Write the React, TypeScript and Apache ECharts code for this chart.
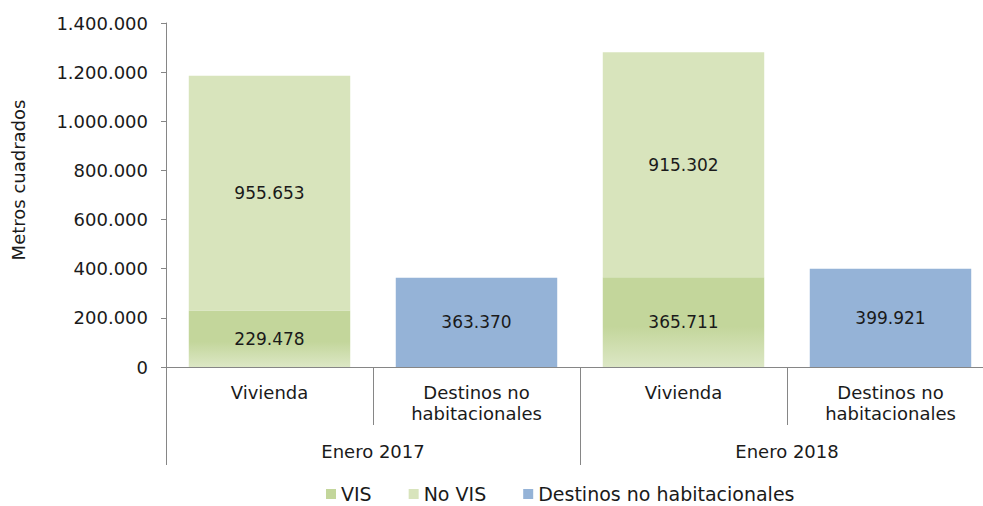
import React, { useEffect, useRef } from "react";
import * as echarts from "echarts";

const categories = ["Vivienda", "Destinos no\nhabitacionales", "Vivienda", "Destinos no\nhabitacionales"];
const periods = ["Enero 2017", "Enero 2018"];
const visValues = [229478, null, 365711, null];
const noVisValues = [955653, null, 915302, null];
const destinosValues = [null, 363370, null, 399921];
const seriesNames = ["VIS", "No VIS", "Destinos no habitacionales"];
const yAxisTitle = "Metros cuadrados";

const fmt = (v: number) => String(Math.round(v)).replace(/\B(?=(\d{3})+(?!\d))/g, ".");

const FONT = "DejaVu Sans";
const AXIS_COLOR = "#868686";

export default function App() {
  const ref = useRef<HTMLDivElement>(null);
  useEffect(() => {
    if (!ref.current) return;
    const chart = echarts.init(ref.current, null, { renderer: "svg" });
    const label = {
      show: true,
      position: "inside",
      color: "#1a1a1a",
      fontFamily: FONT,
      fontSize: 17,
      formatter: (p: any) => fmt(p.value),
    };
    chart.setOption({
      animation: false,
      backgroundColor: "#ffffff",
      grid: { left: 166, top: 23, width: 828, bottom: 139, outerBoundsMode: "none" },
      legend: {
        left: 326,
        top: 484,
        padding: 0,
        icon: "rect",
        itemWidth: 10,
        itemHeight: 10,
        itemGap: 37,
        textStyle: { fontFamily: FONT, fontSize: 19, lineHeight: 20, color: "#1a1a1a" },
        data: [
          { name: seriesNames[0], itemStyle: { color: "#c3d69b" } },
          { name: seriesNames[1], itemStyle: { color: "#d8e4bc" } },
          { name: seriesNames[2], itemStyle: { color: "#95b3d7" } },
        ],
      },
      graphic: [
        {
          type: "text",
          x: 18,
          y: 180,
          rotation: Math.PI / 2,
          style: {
            text: yAxisTitle,
            align: "center",
            verticalAlign: "middle",
            fontFamily: FONT,
            fontSize: 18,
            fill: "#1a1a1a",
          },
        },
      ],
      xAxis: [
        {
          type: "category",
          data: categories,
          position: "bottom",
          axisLine: { show: true, lineStyle: { color: AXIS_COLOR } },
          axisTick: { show: true, interval: 0, length: 58, lineStyle: { color: AXIS_COLOR } },
          axisLabel: {
            interval: 0,
            margin: 15,
            color: "#1a1a1a",
            fontFamily: FONT,
            fontSize: 18,
            lineHeight: 21,
            verticalAlign: "top",
          },
        },
        {
          type: "category",
          data: periods,
          position: "bottom",
          axisLine: { show: false },
          axisTick: { show: true, interval: 0, length: 98, lineStyle: { color: AXIS_COLOR } },
          axisLabel: {
            interval: 0,
            margin: 74,
            color: "#1a1a1a",
            fontFamily: FONT,
            fontSize: 18,
            lineHeight: 21,
            verticalAlign: "top",
          },
        },
      ],
      yAxis: {
        type: "value",
        min: 0,
        max: 1400000,
        interval: 200000,
        axisLine: { show: true, lineStyle: { color: AXIS_COLOR } },
        axisTick: { show: true, length: 5, lineStyle: { color: AXIS_COLOR } },
        splitLine: { show: false },
        axisLabel: {
          margin: 18,
          color: "#1a1a1a",
          fontFamily: FONT,
          fontSize: 18,
          formatter: (v: number) => fmt(v),
        },
      },
      series: [
        {
          name: seriesNames[0],
          type: "bar",
          stack: "total",
          barCategoryGap: "22%",
          data: visValues,
          itemStyle: {
            color: new echarts.graphic.LinearGradient(0, 0, 0, 1, [
              { offset: 0, color: "#c3d69b" },
              { offset: 0.55, color: "#c3d69b" },
              { offset: 1, color: "#dce7c5" },
            ]),
          },
          label,
        },
        {
          name: seriesNames[1],
          type: "bar",
          stack: "total",
          barCategoryGap: "22%",
          data: noVisValues,
          itemStyle: { color: "#d8e4bc" },
          label,
        },
        {
          name: seriesNames[2],
          type: "bar",
          stack: "total",
          barCategoryGap: "22%",
          data: destinosValues,
          itemStyle: { color: "#95b3d7" },
          label,
        },
      ],
    });
    return () => chart.dispose();
  }, []);
  return <div ref={ref} style={{ width: 983, height: 506, position: "absolute", left: 0, top: 0 }} />;
}
